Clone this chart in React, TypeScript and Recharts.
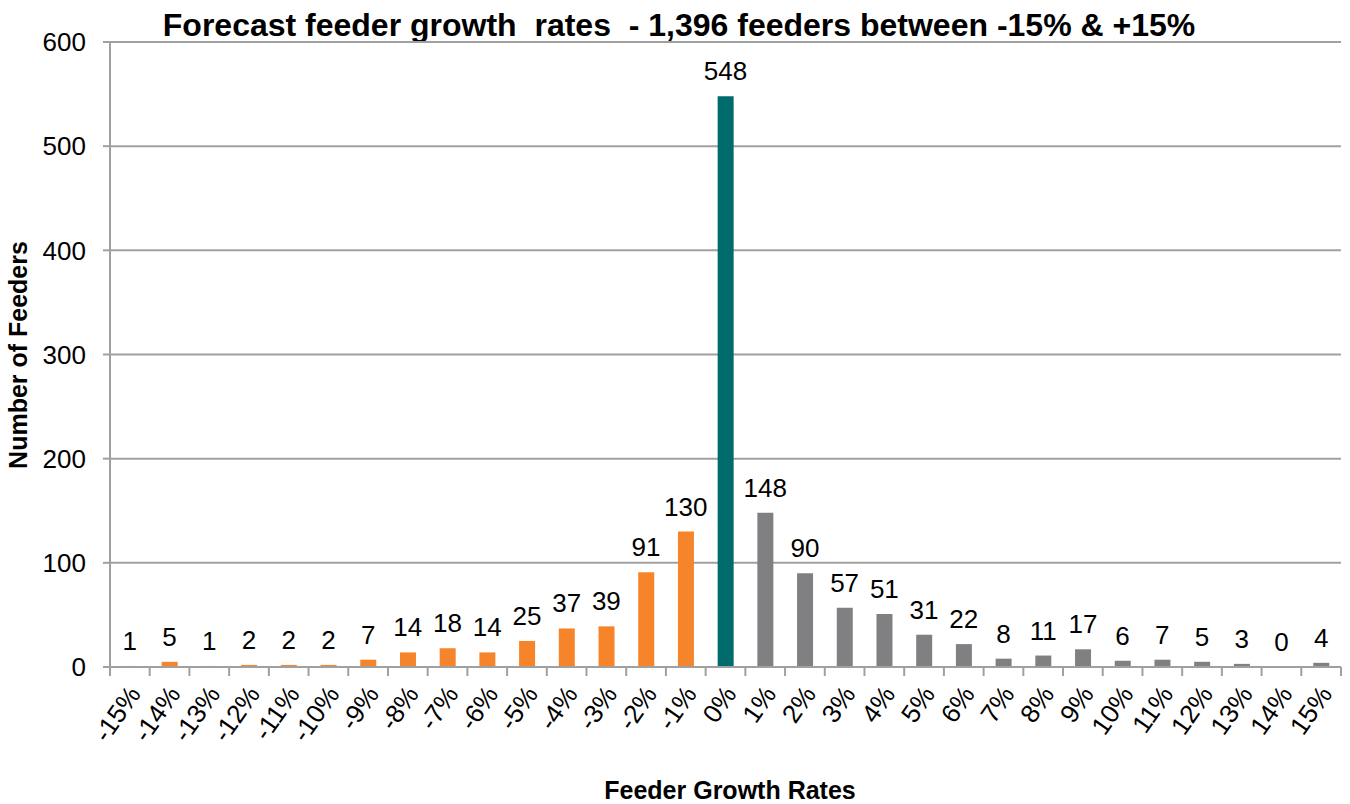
import { ComposedChart, Bar, Line, XAxis, YAxis, CartesianGrid, Cell, LabelList, Label } from "recharts"

const growthRates = [
  "-15%", "-14%", "-13%", "-12%", "-11%", "-10%", "-9%", "-8%", "-7%", "-6%",
  "-5%", "-4%", "-3%", "-2%", "-1%", "0%", "1%", "2%", "3%", "4%",
  "5%", "6%", "7%", "8%", "9%", "10%", "11%", "12%", "13%", "14%", "15%",
]
const feederCounts = [
  1, 5, 1, 2, 2, 2, 7, 14, 18, 14,
  25, 37, 39, 91, 130, 548, 148, 90, 57, 51,
  31, 22, 8, 11, 17, 6, 7, 5, 3, 0, 4,
]
const yTicks = [0, 100, 200, 300, 400, 500, 600]

const data = growthRates.map((rate, i) => ({ rate, count: feederCounts[i] }))

const W = 1350
const H = 804
const M = { top: 42, right: 9, bottom: 0, left: 0 }
const Y_AXIS_W = 110
const X_AXIS_H = 137
const PLOT_W = W - M.left - M.right - Y_AXIS_W
const BAND = PLOT_W / growthRates.length
const PLOT_BOTTOM = H - X_AXIS_H

const FONT = "'Liberation Sans', Arial, sans-serif"
const GRID = "#a0a0a0"

function barColor(rate: string) {
  if (rate === "0%") return "#006b6c"
  return rate.startsWith("-") ? "#f5842a" : "#808083"
}

// category ticks sit between bars, like the original spreadsheet chart
function XTick(props: any) {
  const { x, payload, index } = props
  const left = x - BAND / 2
  const px = x + 12
  const py = PLOT_BOTTOM + 27
  return (
    <g>
      <line x1={left} x2={left} y1={PLOT_BOTTOM} y2={PLOT_BOTTOM + 9} stroke={GRID} strokeWidth={2} />
      {index === growthRates.length - 1 && (
        <line x1={x + BAND / 2} x2={x + BAND / 2} y1={PLOT_BOTTOM} y2={PLOT_BOTTOM + 9} stroke={GRID} strokeWidth={2} />
      )}
      <text
        x={px}
        y={py}
        textAnchor="end"
        fontSize={26}
        fontFamily={FONT}
        fill="#000"
        transform={`rotate(-55, ${px}, ${py})`}
      >
        {payload.value}
      </text>
    </g>
  )
}

export default function App() {
  return (
    <div style={{ position: "absolute", left: 0, top: 0, width: W, height: H, background: "#fff" }}>
      <div
        style={{
          position: "absolute",
          left: 0,
          top: 9,
          width: 1358,
          textAlign: "center",
          fontFamily: FONT,
          fontWeight: "bold",
          fontSize: 32,
          lineHeight: "32px",
          whiteSpace: "pre",
          color: "#000",
        }}
      >
        {"Forecast feeder growth  rates  - 1,396 feeders between -15% & +15%"}
      </div>
      <ComposedChart width={W} height={H} data={data} margin={M} barSize={16}>
        <CartesianGrid vertical={false} stroke={GRID} strokeWidth={2} />
        <XAxis
          dataKey="rate"
          interval={0}
          height={X_AXIS_H}
          tickLine={false}
          axisLine={{ stroke: GRID, strokeWidth: 2 }}
          tick={<XTick />}
        >
          <Label
            content={() => (
              <text x={730} y={799} textAnchor="middle" fontSize={25} fontWeight="bold" fontFamily={FONT} fill="#000">
                Feeder Growth Rates
              </text>
            )}
          />
        </XAxis>
        <YAxis
          width={Y_AXIS_W}
          domain={[0, 600]}
          ticks={yTicks}
          tickSize={7}
          tickMargin={17}
          tickLine={{ stroke: GRID, strokeWidth: 2 }}
          axisLine={{ stroke: GRID, strokeWidth: 2 }}
          tick={{ fontSize: 26, fontFamily: FONT, fill: "#000" }}
        >
          <Label
            content={() => (
              <text
                x={27}
                y={355}
                textAnchor="middle"
                fontSize={25}
                fontWeight="bold"
                fontFamily={FONT}
                fill="#000"
                transform="rotate(-90, 27, 355)"
              >
                Number of Feeders
              </text>
            )}
          />
        </YAxis>
        <Bar dataKey="count" isAnimationActive={false}>
          {data.map((d) => (
            <Cell key={d.rate} fill={barColor(d.rate)} />
          ))}
        </Bar>
        {/* invisible line just carries the value labels, so the 0 bar gets one too */}
        <Line dataKey="count" stroke="none" dot={false} activeDot={false} isAnimationActive={false}>
          <LabelList dataKey="count" position="top" offset={16} fontSize={26} fontFamily={FONT} fill="#000" />
        </Line>
      </ComposedChart>
    </div>
  )
}
